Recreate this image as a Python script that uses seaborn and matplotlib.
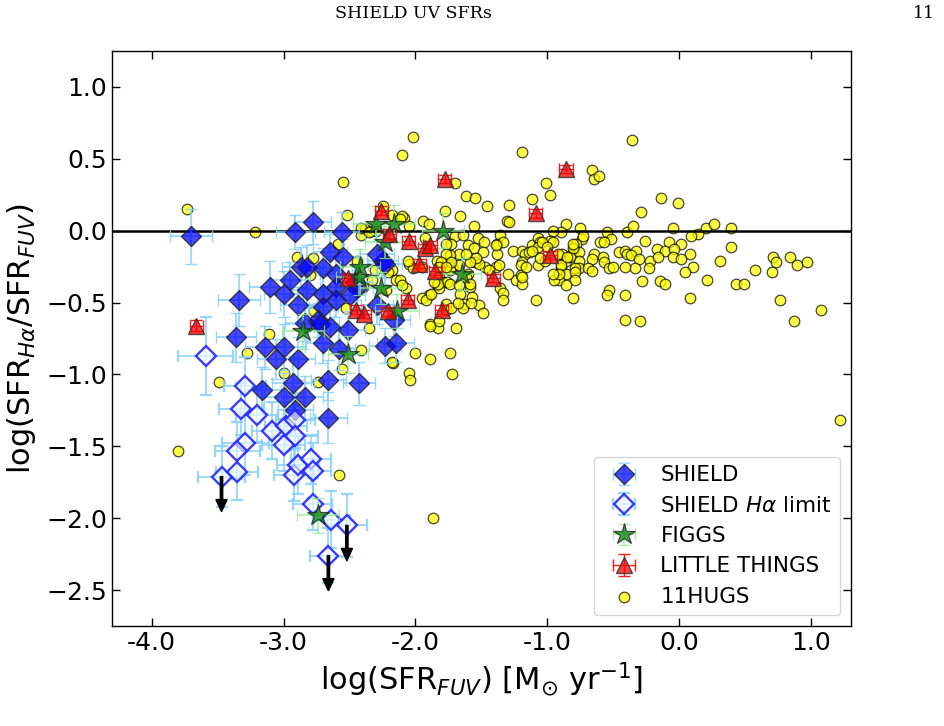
import matplotlib
matplotlib.use("Agg")
import matplotlib.pyplot as plt
import seaborn as sns
import pandas as pd

# ---------------- data ----------------
# SHIELD (detections)
shield_x = [-3.70, -2.91, -2.78, -2.56, -2.87, -2.95, -3.10, -3.00, -2.82, -3.34,
            -2.89, -3.36, -3.14, -3.00, -3.06, -2.89, -2.84, -2.93, -3.16, -2.65,
            -2.55, -2.70, -2.60, -2.82, -2.70, -2.60, -2.46, -2.44, -2.50, -2.60,
            -2.70, -2.29, -2.25, -2.29, -2.23, -2.74, -2.72, -2.65, -2.51, -2.16,
            -2.70, -2.58, -2.23, -2.15, -3.00, -2.84, -2.91, -2.66, -2.43, -2.66]
shield_y = [-0.04, -0.01, 0.06, -0.01, -0.25, -0.34, -0.39, -0.44, -0.41, -0.48,
            -0.52, -0.74, -0.81, -0.81, -0.89, -0.89, -0.64, -1.06, -1.11, -0.15,
            -0.18, -0.26, -0.30, -0.25, -0.44, -0.39, -0.36, -0.40, -0.45, -0.48,
            -0.53, -0.52, -0.21, -0.16, -0.23, -0.62, -0.65, -0.67, -0.69, -0.62,
            -0.78, -0.82, -0.80, -0.78, -1.16, -1.16, -1.25, -1.04, -1.06, -1.30]
shield_xerr = [0.16, 0.15, 0.14, 0.13, 0.14, 0.15, 0.16, 0.15, 0.13, 0.16,
               0.14, 0.15, 0.15, 0.16, 0.14, 0.13, 0.15, 0.16, 0.14, 0.13,
               0.13, 0.14, 0.12, 0.14, 0.13, 0.12, 0.13, 0.12, 0.12, 0.13,
               0.11, 0.12, 0.12, 0.13, 0.13, 0.12, 0.14, 0.12, 0.13, 0.12,
               0.13, 0.12, 0.12, 0.14, 0.15, 0.14, 0.13, 0.13, 0.12, 0.14]
shield_yerr = [0.19, 0.12, 0.15, 0.14, 0.14, 0.12, 0.18, 0.16, 0.13, 0.18,
               0.13, 0.17, 0.15, 0.16, 0.14, 0.15, 0.13, 0.19, 0.16, 0.13,
               0.12, 0.14, 0.12, 0.15, 0.13, 0.12, 0.12, 0.13, 0.11, 0.12,
               0.11, 0.13, 0.12, 0.14, 0.15, 0.12, 0.13, 0.12, 0.12, 0.11,
               0.14, 0.15, 0.12, 0.13, 0.17, 0.15, 0.16, 0.14, 0.15, 0.18]

# SHIELD H-alpha upper limits
lim_x = [-3.59, -3.29, -3.32, -3.20, -3.09, -2.98, -2.91, -2.91, -3.00, -3.29, -3.35,
         -3.47, -3.35, -2.92, -2.89, -2.79, -2.78, -2.78, -2.64, -2.52, -2.66]
lim_y = [-0.87, -1.08, -1.24, -1.28, -1.39, -1.36, -1.32, -1.43, -1.49, -1.48, -1.53,
         -1.71, -1.68, -1.70, -1.63, -1.59, -1.67, -1.90, -2.01, -2.05, -2.26]
lim_xerr = [0.21, 0.16, 0.17, 0.16, 0.15, 0.16, 0.15, 0.17, 0.16, 0.18, 0.17,
            0.18, 0.16, 0.15, 0.16, 0.15, 0.14, 0.15, 0.14, 0.15, 0.14]
lim_yerr = [0.27, 0.20, 0.18, 0.19, 0.20, 0.17, 0.19, 0.21, 0.18, 0.22, 0.20,
            0.21, 0.19, 0.18, 0.20, 0.17, 0.19, 0.18, 0.20, 0.22, 0.19]
lim_arrow = [False, False, False, False, False, False, False, False, False, False, False,
             True, False, False, False, False, False, False, False, True, True]

# FIGGS
figgs_x = [-2.30, -2.16, -2.23, -1.79, -2.43, -2.42, -2.26, -2.14, -2.51, -2.85, -1.65, -2.74]
figgs_y = [0.05, 0.05, -0.08, 0.00, -0.32, -0.25, -0.40, -0.56, -0.86, -0.70, -0.30, -1.98]
figgs_xerr = [0.17, 0.16, 0.15, 0.16, 0.17, 0.15, 0.16, 0.17, 0.15, 0.16, 0.15, 0.16]
figgs_yerr = [0.12, 0.13, 0.11, 0.12, 0.13, 0.12, 0.11, 0.12, 0.13, 0.12, 0.11, 0.12]

# LITTLE THINGS
lt_x = [-3.66, -1.78, -0.86, -1.09, -2.26, -2.20, -2.05, -1.93, -1.89, -1.97,
        -1.85, -0.98, -1.41, -2.06, -1.80, -2.45, -2.39, -2.21, -2.51]
lt_y = [-0.66, 0.36, 0.43, 0.12, 0.14, -0.02, -0.07, -0.12, -0.10, -0.23,
        -0.28, -0.17, -0.33, -0.48, -0.55, -0.55, -0.58, -0.56, -0.33]
lt_xerr = [0.05, 0.05, 0.05, 0.05, 0.05, 0.05, 0.05, 0.05, 0.05, 0.05,
           0.05, 0.05, 0.05, 0.05, 0.05, 0.05, 0.05, 0.05, 0.05]
lt_yerr = [0.04, 0.03, 0.03, 0.03, 0.03, 0.03, 0.03, 0.03, 0.03, 0.03,
           0.03, 0.03, 0.03, 0.03, 0.03, 0.03, 0.03, 0.03, 0.03]

# 11HUGS
hugs_x = [
    -0.36, -0.66, -0.65, -0.61, -0.14, -0.01, -0.29, -0.86, -0.75, -0.90,
    -0.55, -0.40, -0.35, -0.05, 0.20, 0.26, 0.39, 0.14, 0.09, -0.74,
    -0.52, -0.60, -0.57, -0.26, -0.08, 0.01, -0.78, -0.80, 0.39, -0.82,
    -0.76, -0.65, -0.58, -0.46, -0.41, -0.40, -0.33, -0.17, -0.11, -0.04,
    0.08, -0.05, 0.01, -0.37, -0.31, -0.22, -0.16, -0.89, -0.86, -0.76,
    -0.66, -0.57, 0.31, 0.71, 0.73, 0.84, 0.89, 0.97, 0.57, 0.70,
    0.10, 0.04, 0.21, 0.43, 0.49, -0.23, -0.34, -0.41, -0.53, -0.50,
    -0.76, -0.79, -0.69, -0.66, -0.90, -0.86, -0.79, -0.79, -0.91, -0.86,
    -0.28, -0.15, -0.11, -0.53, -0.55, -0.81, -0.41, 0.08, 0.76, 1.07,
    -0.41, -0.30, 0.87, 1.22,
    -2.02, -2.10, -2.55, -1.19, -1.70, -1.62, -1.55, -1.46, -1.29, -1.12,
    -1.01, -0.98, -2.52, -2.18, -2.09, -2.05, -1.94, -1.90, -1.78, -1.66,
    -1.56, -1.31, -1.29, -0.96, -2.38, -2.34, -2.41, -1.36, -1.70, -1.64,
    -1.53, -1.38, -1.34, -1.48, -1.26, -1.12, -1.07, -1.06, -0.98, -1.60,
    -1.56, -1.49, -1.38, -1.19, -1.17, -1.14, -1.07, -0.92, -1.67, -1.74,
    -1.73, -1.77, -1.55, -1.47, -1.39, -1.37, -1.19, -1.20, -1.07, -1.02,
    -0.90, -0.83, -0.81, -0.73, -1.77, -1.72, -1.67, -1.84, -2.05, -2.02,
    -1.95, -1.82, -1.79, -1.76, -1.60, -1.59, -1.57, -1.63, -1.64, -1.52,
    -1.49, -1.66, -1.90, -1.95, -1.92, -1.84, -1.82, -1.89, -1.83, -1.82,
    -1.77, -1.69, -1.36, -1.34, -1.34, -1.24, -1.19, -1.30, -1.20, -1.09,
    -0.95, -0.91, -0.96, -2.30, -1.39, -1.12, -1.04, -0.96, -1.00, -0.81,
    -0.85, -1.06, -1.16, -1.19, -1.44, -1.52, -1.54, -1.59, -1.62, -1.74,
    -1.73, -1.81, -1.82, -1.77, -1.83, -1.86, -1.88, -1.77, -1.73, -1.68,
    -1.58, -1.74, -1.62, -1.59, -1.74, -1.67,
    -3.73, -3.22, -2.90, -2.59, -2.44, -2.80, -2.33, -2.18, -3.11, -3.28,
    -3.49, -3.00, -2.74, -2.56, -2.41, -2.17, -2.05, -2.04, -1.89, -1.89,
    -2.35, -2.77, -2.53, -2.40, -2.15, -2.07, -2.06, -2.10, -3.80, -2.58,
    -1.87, -1.72, -2.41, -2.35, -1.93, -2.31, -2.21, -2.12, -2.10, -2.22,
    -2.18, -2.78, -2.25, -2.12, -2.00]
hugs_y = [
    0.63, 0.42, 0.36, 0.38, 0.23, 0.19, 0.13, 0.05, 0.02, -0.01,
    -0.01, -0.01, 0.03, 0.02, 0.02, 0.05, 0.02, -0.02, -0.04, -0.06,
    -0.06, -0.08, -0.08, -0.07, -0.08, -0.09, -0.09, -0.13, -0.11, -0.17,
    -0.15, -0.16, -0.18, -0.15, -0.14, -0.16, -0.14, -0.13, -0.14, -0.13,
    -0.16, -0.18, -0.20, -0.17, -0.20, -0.21, -0.18, -0.16, -0.21, -0.21,
    -0.20, -0.22, -0.21, -0.18, -0.22, -0.18, -0.24, -0.22, -0.27, -0.29,
    -0.25, -0.29, -0.34, -0.37, -0.37, -0.26, -0.26, -0.25, -0.26, -0.25,
    -0.26, -0.26, -0.26, -0.28, -0.26, -0.30, -0.29, -0.34, -0.34, -0.38,
    -0.35, -0.35, -0.37, -0.41, -0.45, -0.47, -0.45, -0.47, -0.48, -0.55,
    -0.62, -0.63, -0.63, -1.32,
    0.65, 0.53, 0.34, 0.55, 0.33, 0.24, 0.23, 0.17, 0.18, 0.22,
    0.33, 0.25, 0.11, 0.11, 0.09, 0.03, 0.07, 0.05, 0.14, 0.10,
    0.03, 0.07, 0.06, 0.00, 0.01, 0.00, -0.03, -0.03, -0.04, -0.03,
    -0.05, -0.09, -0.08, -0.08, -0.14, -0.10, -0.05, -0.08, -0.07, -0.10,
    -0.12, -0.15, -0.16, -0.14, -0.16, -0.15, -0.11, -0.16, -0.16, -0.17,
    -0.09, -0.09, -0.22, -0.25, -0.25, -0.24, -0.22, -0.24, -0.24, -0.21,
    -0.24, -0.18, -0.12, -0.04, -0.16, -0.25, -0.24, -0.21, -0.23, -0.26,
    -0.25, -0.32, -0.36, -0.36, -0.30, -0.39, -0.46, -0.51, -0.54, -0.52,
    -0.57, -0.44, -0.45, -0.47, -0.48, -0.38, -0.40, -0.65, -0.68, -0.63,
    -0.51, -0.68, -0.40, -0.43, -0.48, -0.34, -0.37, -0.30, -0.31, -0.48,
    -0.34, -0.30, -0.30, 0.00, -0.10, -0.14, -0.08, -0.08, -0.11, -0.09,
    -0.18, -0.19, -0.25, -0.32, -0.27, -0.23, -0.19, -0.22, -0.16, -0.27,
    -0.22, -0.22, -0.25, -0.25, -0.37, -0.36, -0.44, -0.55, -0.54, -0.50,
    -0.50, -0.85, -0.32, -0.37, -0.37, -0.38,
    0.15, -0.01, -0.18, -0.09, -0.21, -0.31, -0.34, -0.27, -0.72, -0.85,
    -1.05, -0.99, -1.05, -0.96, -0.83, -0.92, -0.99, -1.04, -0.89, -0.66,
    -0.68, -0.56, -0.54, -0.39, -0.34, -0.40, -0.21, 0.10, -1.53, -1.70,
    -2.00, -1.00, 0.02, -0.01, -0.05, -0.27, -0.29, -0.34, -0.38, -0.41,
    -0.91, -0.19, 0.17, 0.08, -0.85]

xtick_vals = [-4.0, -3.0, -2.0, -1.0, 0.0, 1.0]
xtick_labels = ["-4.0", "-3.0", "-2.0", "-1.0", "0.0", "1.0"]
ytick_vals = [1.0, 0.5, 0.0, -0.5, -1.0, -1.5, -2.0, -2.5]

# ---------------- plot ----------------
sns.set_style("ticks")
plt.rcParams["font.family"] = ["DejaVu Sans"]
plt.rcParams["mathtext.fontset"] = "dejavusans"
for key in ["text.color", "axes.labelcolor", "xtick.color", "ytick.color",
            "axes.edgecolor"]:
    plt.rcParams[key] = "black"

fig = plt.figure(figsize=(9.45, 7.26), dpi=100)
ax = fig.add_axes([0.1185, 0.1377, 0.782, 0.792])

hugs = pd.DataFrame({"logsfr_fuv": hugs_x, "ratio": hugs_y})
sns.scatterplot(data=hugs, x="logsfr_fuv", y="ratio", ax=ax, s=58,
                color="yellow", alpha=0.72, edgecolor="black", linewidth=0.9,
                zorder=2, legend=False)
h_hugs = ax.collections[-1]

ax.axhline(0.0, color="black", lw=1.8, zorder=2.5)

blue_err = (0.53, 0.81, 0.98, 0.85)
h_shield = ax.errorbar(shield_x, shield_y, xerr=shield_xerr, yerr=shield_yerr,
                       fmt="D", ms=10, mfc=(0.0, 0.0, 1.0, 0.72),
                       mec=(0.15, 0.15, 0.15, 0.85), mew=1.0,
                       ecolor=blue_err, elinewidth=1.3, capsize=4, capthick=1.3,
                       zorder=3)
h_lim = ax.errorbar(lim_x, lim_y, xerr=lim_xerr, yerr=lim_yerr,
                    fmt="D", ms=10, mfc=(1, 1, 1, 0.6), mec=(0.15, 0.15, 1.0, 0.9),
                    mew=1.7, ecolor=blue_err, elinewidth=1.3, capsize=4,
                    capthick=1.3, zorder=3)
for xv, yv, flag in zip(lim_x, lim_y, lim_arrow):
    if flag:
        ax.arrow(xv, yv, 0, -0.245, length_includes_head=True, width=0.018,
                 head_width=0.085, head_length=0.085, fc="black", ec="black",
                 zorder=3.5)

h_figgs = ax.errorbar(figgs_x, figgs_y, xerr=figgs_xerr, yerr=figgs_yerr,
                      fmt="*", ms=16, mfc=(0.0, 0.5, 0.0, 0.72),
                      mec=(0.15, 0.15, 0.15, 0.8), mew=0.9,
                      ecolor=(0.56, 0.93, 0.56, 0.8), elinewidth=1.2, capsize=4,
                      capthick=1.2, zorder=3.2)
h_lt = ax.errorbar(lt_x, lt_y, xerr=lt_xerr, yerr=lt_yerr,
                   fmt="^", ms=12, mfc=(1.0, 0.0, 0.0, 0.75),
                   mec=(0.2, 0.2, 0.2, 0.85), mew=1.0,
                   ecolor=(1.0, 0.0, 0.0, 0.9), elinewidth=1.0, capsize=4,
                   capthick=1.0, zorder=3.3)

ax.set_xlim(-4.3, 1.3)
ax.set_ylim(-2.75, 1.25)
ax.set_xticks(xtick_vals)
ax.set_xticklabels(xtick_labels)
ax.set_yticks(ytick_vals)
ax.tick_params(direction="in", top=True, right=True, length=6, width=1.0,
               labelsize=18, colors="black")
for s in ax.spines.values():
    s.set_linewidth(1.0)
    s.set_color("black")

ax.set_xlabel(r"log(SFR$_{FUV}$) [M$_{\odot}$ yr$^{-1}$]", fontsize=22, labelpad=4)
ax.set_ylabel(r"log(SFR$_{H\alpha}$/SFR$_{FUV}$)", fontsize=22, labelpad=6)

ax.legend([h_shield, h_lim, h_figgs, h_lt, h_hugs],
          ["SHIELD", r"SHIELD $H\alpha$ limit", "FIGGS", "LITTLE THINGS", "11HUGS"],
          loc="lower right", fontsize=15.5, frameon=True, labelspacing=0.48,
          borderaxespad=0.5, handletextpad=0.7)

fig.text(0.438, 0.993, "SHIELD UV SFRs", ha="center", va="top",
         family="DejaVu Serif", fontsize=12.5)
fig.text(0.989, 0.993, "11", ha="right", va="top",
         family="DejaVu Serif", fontsize=12.5)

fig.savefig("out.png", dpi=100)
